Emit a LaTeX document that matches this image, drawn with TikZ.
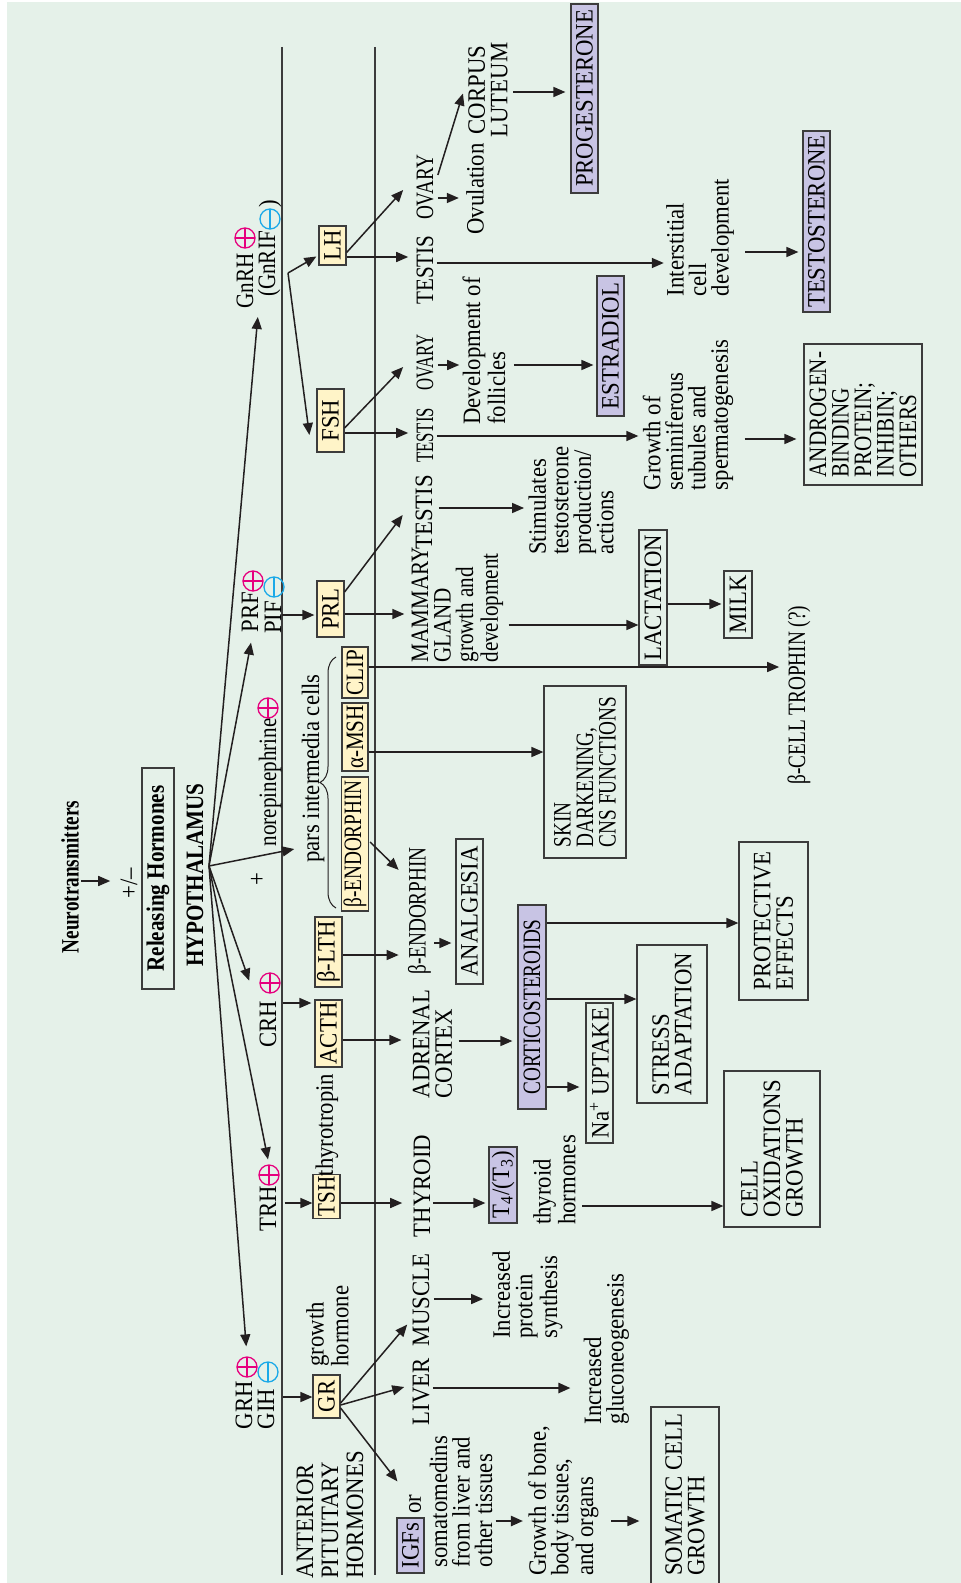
\documentclass[tikz,border=0pt]{standalone}
\usepackage{fontspec}
\setmainfont{Liberation Serif}[FakeStretch=0.91]
\newfontfamily\condf{Liberation Serif}[FakeStretch=0.845]
\newfontfamily\narf{Liberation Serif}[FakeStretch=0.77]
\newfontfamily\xnarf{Liberation Serif}[FakeStretch=0.67]
\usetikzlibrary{arrows.meta,calc,decorations.pathreplacing}
\newcommand{\txtsize}{\fontsize{12.5}{11.25}\selectfont}
\definecolor{bgc}{HTML}{E5F1E9}
\definecolor{yelc}{HTML}{FFF4C8}
\definecolor{purc}{HTML}{C8C4E4}
\definecolor{pinkc}{HTML}{E6007E}
\definecolor{cyanc}{HTML}{1BA9E8}
\definecolor{linec}{HTML}{231F20}
\definecolor{boxc}{HTML}{3C3C3C}
\tikzset{
  txt/.style={rotate=90, inner sep=0pt, align=left, font=\txtsize},
  boxed/.style={rotate=90, draw=boxc, line width=0.6pt, inner sep=1pt, minimum height=13.5pt, align=left, font=\txtsize},
  ybox/.style={boxed, fill=yelc},
  pbox/.style={boxed, fill=purc},
  arr/.style={draw=linec, line width=0.75pt, -{Triangle[length=6pt,width=5pt]}},
  oplus/.style={circle, draw=pinkc, line width=0.65pt, minimum size=10pt, inner sep=0pt,
    path picture={\draw[pinkc, line width=0.65pt] (path picture bounding box.north) -- (path picture bounding box.south)
      (path picture bounding box.west) -- (path picture bounding box.east);}},
  ominus/.style={circle, draw=cyanc, line width=0.65pt, minimum size=10pt, inner sep=0pt,
    path picture={\draw[cyanc, line width=0.65pt] (path picture bounding box.north) -- (path picture bounding box.south);}}
}
\begin{document}
\begin{tikzpicture}[x=0.5pt, y=-0.5pt]
  \useasboundingbox (0,0) rectangle (961,1583);
  \fill[white] (0,0) rectangle (961,1583);
  \fill[bgc] (7,2) rectangle (961,1583);
  \clip (0,0) rectangle (961,1583);
  \draw[line width=0.9pt, boxc] (282,47) -- (282,1575) (375,47) -- (375,1575);
  % hypothalamus
  \node[txt, font=\narf\bfseries\txtsize] (neuro) at (70,877) {Neurotransmitters};
  \node[txt] (pm) at (129,883) {+/--};
  \node[boxed, font=\condf\bfseries\txtsize, minimum width=110.5pt, minimum height=16pt] (rel) at (158,878.5) {Releasing Hormones};
  \node[txt, font=\condf\bfseries\txtsize] (hypo) at (195,875) {HYPOTHALAMUS};
  \coordinate (hub) at (209,866);
  \draw[arr, shorten <=1pt, shorten >=5pt] (neuro.south |- 0,881) -- (pm.north |- 0,881);
  % GnRH -> LH, FSH
  \node[txt, font=\condf\txtsize] (gnrh) at (245,281) {GnRH};
  \node[oplus] (gnrhp) at (245,238) {};
  \node[txt, font=\condf\txtsize] (gnrif) at (269,264) {(GnRIF};
  \node[ominus] (gnrifm) at (270,219) {};
  \node[txt] (gnrifr) at (270,204) {)};
  \coordinate (gsplit) at (288,273);
  \node[ybox, minimum width=19.5pt] (lh) at (332.5,245.5) {LH};
  \node[ybox, minimum width=31.5pt] (fsh) at (330.5,420.5) {FSH};
  \node[txt, font=\condf\txtsize] (tst1) at (425,270) {TESTIS};
  \node[txt, font=\narf\txtsize] (ov1) at (425,187.5) {OVARY};
  \node[txt] (ovul) at (475,189) {Ovulation};
  \node[txt, align=center] (corpus) at (488,90) {CORPUS\\LUTEUM};
  \node[pbox, minimum width=94.5pt] (prog) at (584.5,98.5) {PROGESTERONE};
  \node[txt] (inter) at (700,237.5) {Interstitial\\cell\\development};
  \node[pbox, minimum width=90.5pt] (testo) at (816.5,221.5) {TESTOSTERONE};
  \node[txt, font=\xnarf\txtsize] (tst2) at (425,435.5) {TESTIS};
  \node[txt, font=\xnarf\txtsize] (ov2) at (425,362.5) {OVARY};
  \node[txt] (devel) at (484,351) {Development of\\follicles};
  \node[pbox, minimum width=70pt] (estr) at (610.5,346) {ESTRADIOL};
  \node[txt] (semin) at (688,415) {Growth of\\seminiferous\\tubules and\\spermatogenesis};
  \node[boxed, font=\condf\txtsize, minimum width=70.5pt, minimum height=59pt] (andro) at (863,414.5) {ANDROGEN-\\BINDING\\PROTEIN;\\INHIBIN;\\OTHERS};
  \draw[arr] (hub) -- ($(gnrh.south west)+(4,8)$);
  \draw[arr] (gsplit) -- ($(lh.north)+(-2,11)$);
  \draw[arr] (gsplit) -- ($(fsh.north)+(-7,14.5)$);
  \draw[arr] ($(lh.south)+(0,7)$) -- ($(ov1.north)+(-13,2.5)$);
  \draw[arr, shorten >=4pt] (lh.south |- 0,257) -- (tst1.north |- 0,257);
  \draw[arr, shorten <=1.5pt, shorten >=1pt] (tst1.south |- 0,263) -- (inter.north |- 0,263);
  \draw[arr, shorten <=2pt, shorten >=3.5pt] (ov1.south |- 0,198) -- (ovul.north |- 0,198);
  \draw[arr] ($(ov1.south)+(4,-12.5)$) -- ($(corpus.north)+(-5,3.5)$);
  \draw[arr, shorten <=2.5pt, shorten >=2.5pt] (corpus.south |- 0,92) -- (prog.north |- 0,92);
  \draw[arr, shorten <=5.5pt, shorten >=2pt] (inter.south |- 0,252) -- (testo.north |- 0,252);
  \draw[arr, shorten >=4pt] (fsh.south |- 0,433) -- (tst2.north |- 0,433);
  \draw[arr] ($(fsh.south)+(0,7.5)$) -- ($(ov2.north)+(-13,4.5)$);
  \draw[arr, shorten <=2pt, shorten >=1.5pt] (ov2.south |- 0,365) -- (devel.north |- 0,365);
  \draw[arr, shorten <=4pt, shorten >=1.5pt] (devel.south |- 0,365) -- (estr.north |- 0,365);
  \draw[arr, shorten <=1.5pt, shorten >=2pt] (tst2.south |- 0,436) -- (semin.north |- 0,436);
  \draw[arr, shorten <=5.5pt, shorten >=3.5pt] (semin.south |- 0,439) -- (andro.north |- 0,439);
  % PRF/PIF -> PRL
  \node[txt] (prf) at (250,612) {PRF};
  \node[oplus] (prfp) at (253,581) {};
  \node[txt] (pif) at (273,617.5) {PIF};
  \node[ominus] (pifm) at (274,587) {};
  \node[ybox, minimum width=28pt] (prl) at (330.5,609) {PRL};
  \node[txt] (tst3) at (424,512.5) {TESTIS};
  \node[txt, font=\condf\txtsize] (mam) at (457.5,605) {MAMMARY\\GLAND\\growth and\\development};
  \node[txt] (stim) at (571,500.5) {Stimulates\\testosterone\\production/\\actions};
  \node[boxed, minimum width=67.5pt, minimum height=14pt] (lact) at (653,597.5) {LACTATION};
  \node[boxed, minimum width=33.5pt, minimum height=14pt] (milk) at (738,604.5) {MILK};
  \node[txt, font=\narf\txtsize] (bcell) at (799,695) {β-CELL TROPHIN (?)};
  \draw[arr] (hub) -- ($(prf.west)+(1,10)$);
  \draw[arr, shorten >=1pt] (pif.south |- 0,615) -- (prl.north |- 0,615);
  \draw[arr] ($(prl.south)+(0,-17)$) -- ($(tst3.north)+(-12.5,2.5)$);
  \draw[arr, shorten >=3.5pt] (prl.south |- 0,614) -- (mam.north |- 0,614);
  \draw[arr, shorten <=3pt, shorten >=2pt] (tst3.south |- 0,508) -- (stim.north |- 0,508);
  \draw[arr, shorten <=2.5pt] (mam.south |- 0,625) -- (lact.north |- 0,625);
  \draw[arr, shorten >=1pt] (lact.south |- 0,604) -- (milk.north |- 0,604);
  % pars intermedia
  \node[txt, font=\condf\txtsize] (nore) at (270,782.5) {norepinephrine};
  \node[oplus] (norp) at (268,708) {};
  \node[txt] (plus) at (258,879) {+};
  \node[txt] (pars) at (313,768.5) {pars intermedia cells};
  \draw[decorate, decoration={brace, amplitude=8pt}, line width=0.5pt, linec] (336,908) -- (336,657);
  \node[ybox, font=\condf\txtsize, minimum width=25.5pt, minimum height=13pt] (clip) at (355,672.5) {CLIP};
  \node[ybox, font=\condf\txtsize, minimum width=33pt, minimum height=13pt] (amsh) at (355,737) {α-MSH};
  \node[ybox, font=\narf\txtsize, minimum width=67pt, minimum height=13pt] (bendb) at (355,844) {β-ENDORPHIN};
  \node[boxed, font=\narf\txtsize, minimum width=86pt, minimum height=41pt] (skin) at (585,772) {SKIN\\DARKENING,\\CNS FUNCTIONS};
  \node[txt, font=\narf\txtsize] (bend) at (419.5,911) {β-ENDORPHIN};
  \node[boxed, minimum width=72.5pt] (analg) at (469.5,911.5) {ANALGESIA};
  \node[ybox, minimum width=35pt] (blth) at (328.5,952) {β-LTH};
  \draw[arr] (hub) -- ($(pars.north west)+(-7,-14)$);
  \draw[arr, shorten >=4pt] (clip.south |- 0,667) -- (bcell.north |- 0,667);
  \draw[arr] (amsh.south |- 0,752) -- (skin.north |- 0,752);
  \draw[arr] ($(bendb.south)+(1,-2)$) -- ($(bend.north east)+(-9,23)$);
  \draw[arr, shorten <=1.5pt, shorten >=2pt] (bend.south |- 0,943) -- (analg.north |- 0,943);
  \draw[arr, shorten >=4.5pt] (blth.south |- 0,955) -- (bend.north |- 0,955);
  % CRH -> ACTH
  \node[txt] (crh) at (268,1024.5) {CRH};
  \node[oplus] (crhp) at (270,983) {};
  \node[ybox, minimum width=33.5pt] (acth) at (328.5,1033.5) {ACTH};
  \node[txt] (adr) at (432.5,1044) {ADRENAL\\CORTEX};
  \node[pbox, font=\narf\txtsize, minimum width=102pt, minimum height=14pt] (cort) at (532,1007) {CORTICOSTEROIDS};
  \node[boxed, minimum width=70pt] (na) at (599.5,1073) {Na\textsuperscript{+} UPTAKE};
  \node[boxed, minimum width=79pt, minimum height=35pt] (stress) at (672,1024) {STRESS\\ADAPTATION};
  \node[boxed, minimum width=79pt, minimum height=34.5pt] (prot) at (773.5,921) {PROTECTIVE\\EFFECTS};
  \draw[arr] (hub) -- ($(crh.north east)+(-10,-20)$);
  \draw[arr, shorten <=3pt, shorten >=1.5pt] (crh.south |- 0,1003) -- (acth.north |- 0,1003);
  \draw[arr, shorten >=5.5pt] (acth.south |- 0,1040) -- (adr.north |- 0,1040);
  \draw[arr, shorten <=3pt, shorten >=2.5pt] (adr.south |- 0,1041) -- (cort.north |- 0,1041);
  \draw[arr, shorten >=3pt] (cort.south |- 0,1087) -- (na.north |- 0,1087);
  \draw[arr] (cort.south |- 0,999) -- (stress.north |- 0,999);
  \draw[arr] (cort.south |- 0,923) -- (prot.north |- 0,923);
  % TRH -> TSH
  \node[txt] (trh) at (268,1208.5) {TRH};
  \node[oplus] (trhp) at (269,1175) {};
  \node[ybox, font=\condf\txtsize, minimum width=21.5pt] (tsh) at (326.5,1196.5) {TSH};
  \node[txt] (thyro) at (327,1125) {thyrotropin};
  \node[txt] (thy) at (422,1186) {THYROID};
  \node[pbox, minimum width=38pt, minimum height=14pt] (tfour) at (503,1185) {T\textsubscript{4}/(T\textsubscript{3})};
  \node[txt] (thyh) at (554.5,1180) {thyroid\\hormones};
  \node[boxed, minimum width=78pt, minimum height=48pt] (cellb) at (772,1149) {CELL\\OXIDATIONS\\GROWTH};
  \draw[arr, shorten >=2.5pt] (hub) -- (trhp.north);
  \draw[arr, shorten <=4pt] (trh.south |- 0,1203) -- (tsh.north |- 0,1203);
  \draw[arr, shorten >=5.5pt] (tsh.south |- 0,1203) -- (thy.north |- 0,1203);
  \draw[arr, shorten <=1pt, shorten >=1.5pt] (thy.south |- 0,1203) -- (tfour.north |- 0,1203);
  \draw[arr, shorten <=3pt] (thyh.south |- 0,1206) -- (cellb.north |- 0,1206);
  % GRH/GIH -> GR
  \node[txt] (grh) at (244,1405) {GRH};
  \node[oplus] (grhp) at (247,1367) {};
  \node[txt] (gih) at (266,1409) {GIH};
  \node[ominus] (gihm) at (268,1372) {};
  \node[ybox, minimum width=21.5pt] (gr) at (326.5,1396.5) {GR};
  \node[txt] (ghorm) at (327.5,1326) {growth\\hormone};
  \node[txt, font=\fontsize{12.5}{12.5}\selectfont] (apit) at (330,1515) {ANTERIOR\\PITUITARY\\HORMONES};
  \node[txt] (liver) at (421,1391.5) {LIVER};
  \node[txt] (muscle) at (421,1300) {MUSCLE};
  \node[pbox, minimum width=27.5pt] (igf) at (410.5,1545.5) {IGFs};
  \node[txt] (orr) at (415,1504) {or};
  \node[txt] (somat) at (461,1501.5) {somatomedins\\from liver and\\other tissues};
  \node[txt] (prot2) at (527.5,1295) {Increased\\protein\\synthesis};
  \node[txt] (gluc) at (606.5,1349) {Increased\\gluconeogenesis};
  \node[txt] (gbone) at (563.5,1501) {Growth of bone,\\body tissues,\\and organs};
  \node[draw=boxc, line width=0.6pt, minimum width=34pt, minimum height=106pt, inner sep=0pt] (somb) at (685,1513) {};
  \node[txt] (somt) at (685,1494.5) {SOMATIC CELL\\GROWTH};
  \draw[arr, shorten >=5pt] (hub) -- (grhp.north);
  \draw[arr, shorten <=4pt] (gih.south |- 0,1397) -- (gr.north |- 0,1397);
  \draw[arr] ($(gr.south)+(0,6.5)$) -- ($(muscle.north west)+(-5,-22)$);
  \draw[arr] ($(gr.south)+(0,8.5)$) -- ($(liver.north)+(-8,-4.5)$);
  \draw[arr] ($(gr.south)+(0,11.5)$) -- ($(igf.north east)+(1,-36)$);
  \draw[arr, line width=1.2pt, shorten <=1.5pt, shorten >=6.5pt] (liver.south |- 0,1388) -- (gluc.north |- 0,1388);
  \draw[arr, shorten <=2pt, shorten >=4.5pt] (muscle.south |- 0,1299) -- (prot2.north |- 0,1299);
  \draw[arr, line width=1.1pt, shorten <=1.5pt, shorten >=2.5pt] (somat.south |- 0,1521) -- (gbone.north |- 0,1521);
  \draw[arr, shorten <=6pt, shorten >=5.5pt] (gbone.south |- 0,1521) -- (somb.west |- 0,1521);
\end{tikzpicture}
\end{document}
